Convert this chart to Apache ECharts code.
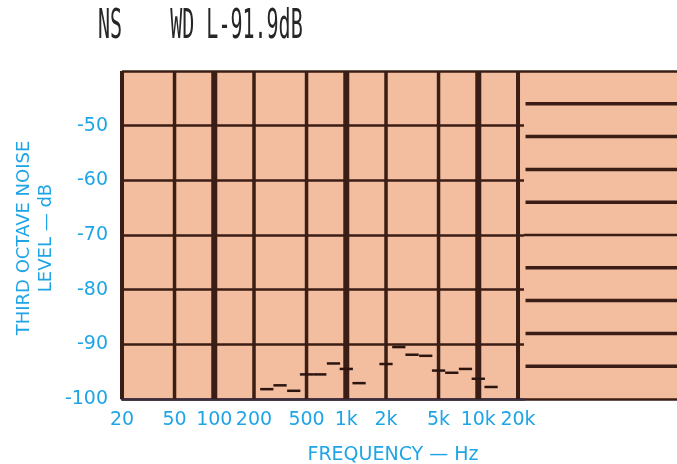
<!DOCTYPE html>
<html><head><meta charset="utf-8">
<script src="https://cdn.jsdelivr.net/npm/echarts@6/dist/echarts.min.js"></script>
<style>html,body{margin:0;padding:0;background:#fff}#c{width:677px;height:464px}</style>
</head><body><div id="c"></div>
<script>
// ---- data ----
const titleText = 'NS    WD L-91.9dB';
const xTickValues = [20, 50, 100, 200, 500, 1000, 2000, 5000, 10000, 20000];
const xTickLabels = ['20', '50', '100', '200', '500', '1k', '2k', '5k', '10k', '20k'];
const yTickValues = [-100, -90, -80, -70, -60, -50];
const bandCenters = [250, 315, 400, 500, 630, 800, 1000, 1250, 1600, 2000, 2500, 3150, 4000, 5000, 6300, 8000, 10000, 12500];
const bandLevels  = [-98.2, -97.5, -98.5, -95.5, -95.5, -93.5, -94.5, -97.1, null, -93.6, -90.5, -91.9, -92.1, -94.8, -95.2, -94.5, -96.3, -97.8];
const rightPanelLevels = [1, 2, 3, 4, 5, 6, 7, 8, 9];
const xAxisTitle = 'FREQUENCY — Hz';
const yAxisTitle = 'THIRD OCTAVE NOISE\nLEVEL — dB';

// ---- style ----
const PEACH = '#f3bea0';
const INK = '#3a1d14';
const BLUE = '#1fa5e6';
const FONT = '"DejaVu Sans"';

const chart = echarts.init(document.getElementById('c'), null, {renderer: 'canvas'});

const segData = bandCenters.map((f, i) => [f, bandLevels[i]]).filter(d => d[1] !== null);
const third = Math.pow(2, 1 / 6);

chart.setOption({
  animation: false,
  backgroundColor: '#fff',
  grid: [
    {left: 122, top: 71, width: 402, height: 328, show: true, backgroundColor: PEACH, borderWidth: 0},
    {left: 524, top: 71, right: 0, height: 328, show: true, backgroundColor: PEACH, borderWidth: 0}
  ],
  xAxis: [
    {
      gridIndex: 0, type: 'log', logBase: 10, min: 20, max: 22200,
      axisLine: {show: true, lineStyle: {color: '#3c3040', width: 2.5}},
      axisTick: {show: false},
      splitLine: {show: false},
      axisLabel: {
        customValues: xTickValues,
        formatter: v => { const i = xTickValues.findIndex(t => Math.abs(t - v) < 1e-6 * t); return i >= 0 ? xTickLabels[i] : ''; },
        color: BLUE, fontFamily: FONT, fontSize: 19, margin: 12
      }
    },
    {gridIndex: 1, type: 'value', min: 0, max: 1, show: false}
  ],
  yAxis: [
    {
      gridIndex: 0, type: 'value', min: -100, max: -40, interval: 10,
      axisLine: {show: false}, axisTick: {show: false},
      splitLine: {show: true, lineStyle: {color: INK, width: 2.5}},
      axisLabel: {
        customValues: yTickValues,
        formatter: v => String(v),
        color: BLUE, fontFamily: FONT, fontSize: 19, margin: 14
      }
    },
    {
      gridIndex: 1, type: 'value', min: 0, max: 10, interval: 10,
      axisLine: {show: false}, axisTick: {show: false}, axisLabel: {show: false},
      splitLine: {show: true, lineStyle: {color: INK, width: 2.5}}
    }
  ],
  graphic: [
    {
      type: 'text', x: 98, y: 8, scaleY: 2,
      style: {text: titleText, font: '20px "DejaVu Sans Mono"', fill: '#262626', textVerticalAlign: 'top'}
    },
    {
      type: 'text', x: 393, y: 455,
      style: {text: xAxisTitle, font: '19px ' + FONT, fill: BLUE, textAlign: 'center', textVerticalAlign: 'middle'}
    },
    {
      type: 'text', x: 35, y: 238, rotation: Math.PI / 2,
      style: {text: yAxisTitle, font: '18px ' + FONT, fill: BLUE, textAlign: 'center', textVerticalAlign: 'middle', lineHeight: 22}
    }
  ],
  series: [
    {
      type: 'custom', xAxisIndex: 0, yAxisIndex: 0, silent: true, clip: false, z: 3,
      data: xTickValues.map(f => [f]),
      encode: {x: 0},
      renderItem: (params, api) => {
        const f = api.value(0);
        const top = api.coord([f, -40]);
        const bot = api.coord([f, -100]);
        const isDecade = Math.abs(Math.log10(f) - Math.round(Math.log10(f))) < 1e-9;
        const isEdge = (f === xTickValues[0] || f === xTickValues[xTickValues.length - 1]);
        const w = isDecade ? 6 : (isEdge ? 4 : 3.5);
        return {type: 'line', shape: {x1: top[0], y1: top[1], x2: bot[0], y2: bot[1]}, style: {stroke: INK, lineWidth: w}};
      }
    },
    {
      type: 'custom', xAxisIndex: 1, yAxisIndex: 1, silent: true, clip: false, z: 3,
      data: rightPanelLevels.map(v => [0, v]),
      encode: {x: 0, y: 1},
      renderItem: (params, api) => {
        const v = api.value(1);
        const mid = v === 5;
        const a = api.coord([mid ? 0 : 0.01, v]);
        const b = api.coord([1, v]);
        return {type: 'line', shape: {x1: a[0], y1: a[1], x2: b[0], y2: b[1]}, style: {stroke: INK, lineWidth: mid ? 2.5 : 3.5}};
      }
    },
    {
      type: 'custom', xAxisIndex: 0, yAxisIndex: 0, z: 4,
      data: segData,
      encode: {x: 0, y: 1},
      renderItem: (params, api) => {
        const f = api.value(0), v = api.value(1);
        const a = api.coord([f / third, v]);
        const b = api.coord([f * third, v]);
        return {type: 'line', shape: {x1: a[0], y1: a[1], x2: b[0], y2: b[1]}, style: {stroke: '#2a1510', lineWidth: 2.5}};
      }
    }
  ]
});
</script>
</body></html>
